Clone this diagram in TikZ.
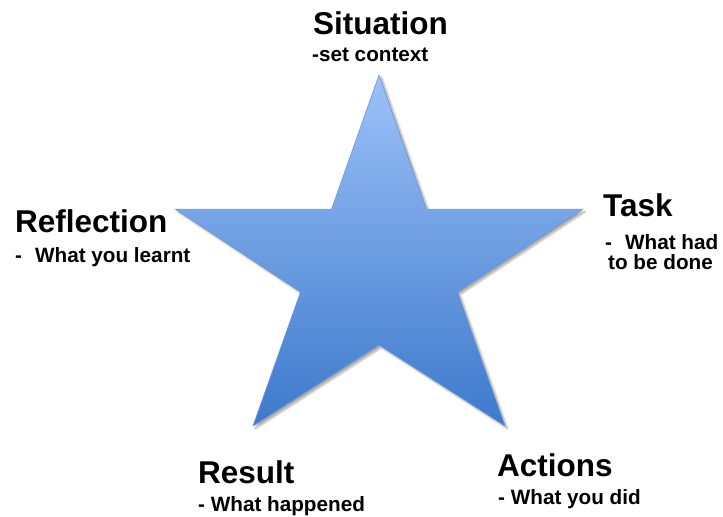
\documentclass[tikz,border=0pt]{standalone}
\usepackage{fontspec}
\setmainfont{Liberation Sans}
\usetikzlibrary{shadows.blur}

\definecolor{startop}{HTML}{9CC1F7}
\definecolor{starbot}{HTML}{3D79CC}
\definecolor{staredge}{HTML}{6B95D6}

\tikzset{
  title/.style={anchor=base west, inner sep=0pt,
    font=\fontsize{31.5bp}{34bp}\selectfont\bfseries},
  sub/.style={anchor=base west, inner sep=0pt,
    font=\fontsize{20.7bp}{23bp}\selectfont\bfseries},
  starshape/.style={draw=staredge, line width=0.6bp, line join=miter,
    top color=startop, bottom color=starbot,
    blur shadow={shadow xshift=2.5bp, shadow yshift=-2.5bp,
      shadow blur steps=6, shadow opacity=35}}
}

\begin{document}
\begin{tikzpicture}[x=1bp, y=-1bp]
  \useasboundingbox (0,0) rectangle (723,517);

  % five-pointed star
  \path[starshape]
    (379,75) -- (426.5,209.3) -- (582.5,209.3) -- (457.5,292)
    -- (505,426) -- (379,345) -- (253,426) -- (300.5,292)
    -- (175.5,209.3) -- (331.5,209.3) -- cycle;

  % labels round the star
  \node[title] (situation) at (313,35) {Situation};
  \node[sub]   (situationsub) at (312,62) {-set context};

  \node[title] (task) at (603,217) {Task};
  \node[sub]   (tasksub1) at (605,250) {-\hspace{13bp}What had};
  \node[sub]   (tasksub2) at (608,270) {to be done};

  \node[title] (reflection) at (15,233) {Reflection};
  \node[sub]   (reflectionsub) at (15,263) {-\hspace{13bp}What you learnt};

  \node[title] (result) at (198,483) {Result};
  \node[sub]   (resultsub) at (198,511.5) {- What happened};

  \node[title] (actions) at (497,476) {Actions};
  \node[sub]   (actionssub) at (498,504) {- What you did};
\end{tikzpicture}
\end{document}
